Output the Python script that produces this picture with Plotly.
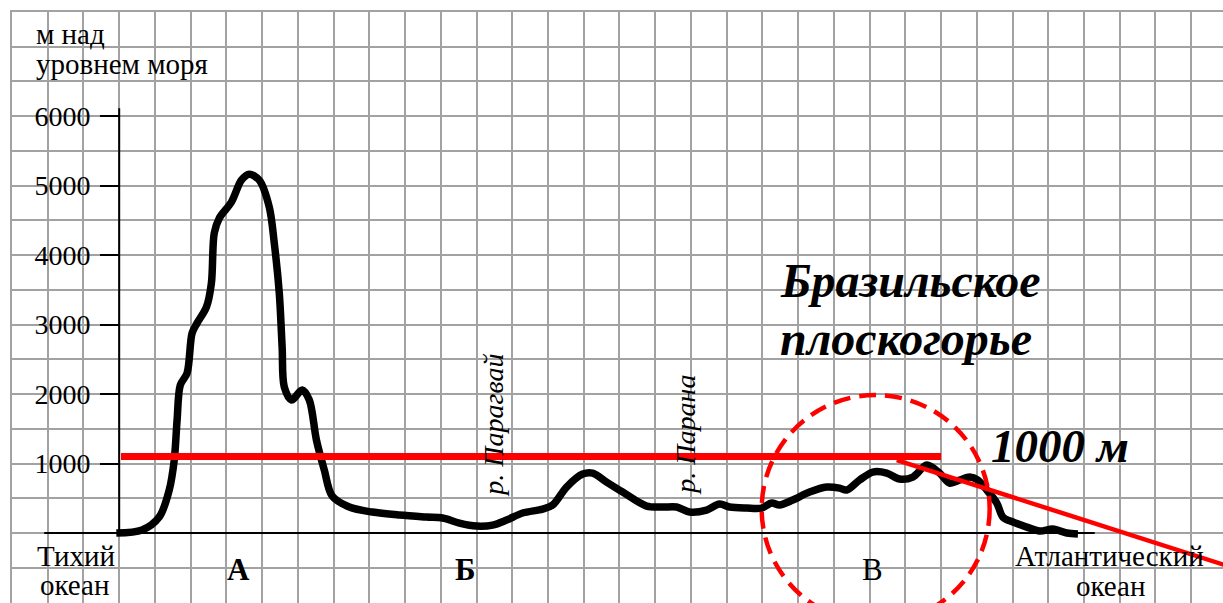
import plotly.graph_objects as go

# profile across South America: distance in grid cells, height in metres
dist = [-0.08, 0.64, 1.12, 1.40, 1.54, 1.62, 1.71, 1.90, 2.04, 2.18, 2.44, 2.58, 2.66, 2.80,
        3.14, 3.42, 3.64, 3.92, 4.20, 4.34, 4.48, 4.56, 4.62, 4.82, 5.12, 5.32, 5.52, 5.74,
        5.96, 6.44, 7.08, 7.84, 8.60, 9.05, 9.52, 10.00, 10.45, 10.84, 11.29, 11.85, 12.13,
        12.52, 12.97, 13.25, 13.64, 14.09, 14.76, 15.21, 15.60, 15.96, 16.44, 16.80, 17.08,
        17.56, 17.98, 18.26, 18.48, 18.85, 19.32, 19.80, 20.16, 20.36, 20.72, 21.09, 21.48,
        21.84, 22.21, 22.60, 22.96, 23.24, 23.52, 23.80, 24.03, 24.28, 24.56, 24.73, 25.01,
        25.40, 25.76, 26.13, 26.52, 26.83]
height = [0, 43, 230, 619, 1050, 1626, 2130, 2302, 2878, 3022, 3252, 3597, 4317, 4532,
          4763, 5079, 5165, 5079, 4691, 4173, 3453, 2676, 2101, 1914, 2058, 1914, 1338, 906,
          532, 374, 302, 259, 230, 216, 144, 101, 115, 187, 288, 345, 403,
          662, 849, 863, 734, 590, 388, 374, 374, 302, 331, 417, 374,
          360, 360, 432, 403, 475, 590, 662, 647, 619, 763, 878, 863,
          777, 806, 978, 863, 719, 763, 806, 763, 619, 432, 230, 158,
          86, 29, 58, 0, -14]

y_ticks = [1000, 2000, 3000, 4000, 5000, 6000]
y_ticktext = ["1000", "2000", "3000", "4000", "5000", "6000"]

# red marks drawn over the profile
level_x = [0.05, 23.0]
level_y = [1100, 1100]
slope_x = [21.76, 31.9]
slope_y = [1050, -619]
circle_x = [17.98, 24.36]
circle_y = [-1295, 1986]

x_range = [-3, 30.89]
y_range = [-1007, 7500]
grid = "#a2a2a2"
serif = "Liberation Serif"

fig = go.Figure()

# axes of the profile
fig.add_trace(go.Scatter(x=[0, 0], y=[0, 6115], mode="lines", yaxis="y2",
                         line=dict(color="black", width=2), hoverinfo="skip"))
fig.add_trace(go.Scatter(x=[-2.1, 27.3], y=[0, 0], mode="lines", yaxis="y2",
                         line=dict(color="black", width=2), hoverinfo="skip"))

fig.add_trace(go.Scatter(x=dist, y=height, mode="lines",
                         line=dict(color="black", width=7.5, shape="spline", smoothing=0.9)))

fig.add_trace(go.Scatter(x=level_x, y=level_y, mode="lines",
                         line=dict(color="#ff0000", width=7)))
fig.add_trace(go.Scatter(x=slope_x, y=slope_y, mode="lines",
                         line=dict(color="#ff0000", width=4.5)))

fig.add_shape(type="circle", xref="x", yref="y",
              x0=circle_x[0], x1=circle_x[1], y0=circle_y[0], y1=circle_y[1],
              line=dict(color="#ff0000", width=4.5, dash="17px,9px"), layer="above")

labels = [
    ("м над", -2.38, 7180, "left", 29, "normal", "normal"),
    ("уровнем моря", -2.38, 6748, "left", 29, "normal", "normal"),
    ("Тихий", -1.20, -331, "center", 29, "normal", "normal"),
    ("океан", -1.25, -748, "center", 29, "normal", "normal"),
    ("А", 3.33, -530, "center", 31, "bold", "normal"),
    ("Б", 9.69, -530, "center", 31, "bold", "normal"),
    ("В", 21.09, -530, "center", 31, "normal", "normal"),
    ("Атлантический", 27.72, -331, "center", 29, "normal", "normal"),
    ("океан", 27.75, -760, "center", 29, "normal", "normal"),
    ("Бразильское", 18.45, 3640, "left", 48, "bold", "italic"),
    ("плоскогорье", 18.45, 2806, "left", 48, "bold", "italic"),
    ("1000 м", 24.35, 1252, "left", 47, "bold", "italic"),
]
for text, x, y, anchor, size, weight, style in labels:
    fig.add_annotation(x=x, y=y, text=text, showarrow=False, xanchor=anchor, yanchor="middle",
                       font=dict(family=serif, size=size, color="black", weight=weight, style=style))

for text, x, y in [("р. Парагвай", 10.45, 1554), ("р. Парана", 15.85, 1410)]:
    fig.add_annotation(x=x, y=y, text=text, showarrow=False, textangle=-90,
                       font=dict(family=serif, size=28, color="black", style="italic"))

fig.update_layout(
    width=1223, height=603,
    margin=dict(l=12, r=0, t=12, b=0),
    paper_bgcolor="white", plot_bgcolor="white",
    showlegend=False,
    xaxis=dict(range=x_range, tick0=0, dtick=1, showgrid=True, gridcolor=grid, gridwidth=2,
               zeroline=False, showticklabels=False, side="top",
               showline=True, linecolor=grid, linewidth=2),
    yaxis=dict(range=y_range, tick0=0, dtick=500, showgrid=True, gridcolor=grid, gridwidth=2,
               zeroline=False, showticklabels=False,
               showline=True, linecolor=grid, linewidth=2),
    yaxis2=dict(range=y_range, overlaying="y", anchor="free", position=108 / 1211,
                tickvals=y_ticks, ticktext=y_ticktext, ticks="outside", ticklen=20,
                tickwidth=2, tickcolor="black", ticklabelstandoff=4,
                showgrid=False, zeroline=False, showline=False,
                tickfont=dict(family=serif, size=28, color="black")),
)

fig.write_html("out.html", config={"displayModeBar": False},
               post_script="document.body.style.margin='0';")
